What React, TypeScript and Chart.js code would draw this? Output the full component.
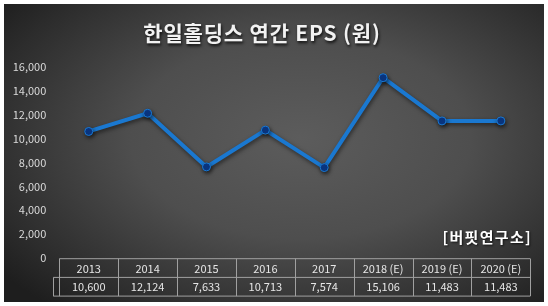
import React, { useEffect, useRef } from "react";
import { Chart, registerables } from "chart.js";

Chart.register(...registerables);

const categories = ["2013", "2014", "2015", "2016", "2017", "2018 (E)", "2019 (E)", "2020 (E)"];
const epsValues = [10600, 12124, 7633, 10713, 7574, 15106, 11483, 11483];
const tableLabels = ["10,600", "12,124", "7,633", "10,713", "7,574", "15,106", "11,483", "11,483"];
const titleText = "한일홀딩스 연간 EPS (원)";
const sourceText = "[버핏연구소]";

const FONT = "'Noto Sans CJK KR', 'Noto Sans', sans-serif";

const shadowPlugin = {
  id: "lineShadow",
  beforeDatasetsDraw(chart: any) {
    const ctx = chart.ctx;
    ctx.save();
    ctx.shadowColor = "rgba(0,0,0,0.55)";
    ctx.shadowBlur = 4;
    ctx.shadowOffsetX = 1;
    ctx.shadowOffsetY = 2;
  },
  afterDatasetsDraw(chart: any) {
    chart.ctx.restore();
  },
};

const tablePlugin = {
  id: "dataTable",
  afterDraw(chart: any) {
    const ctx = chart.ctx;
    const xs = chart.scales.x;
    const area = chart.chartArea;
    const n = categories.length;
    const colW = (area.right - area.left) / n;
    const top = area.bottom + 0.7;
    const rowH = 18.7;
    const keyLeft = area.left - 6;
    ctx.save();
    ctx.strokeStyle = "#a0a0a0";
    ctx.lineWidth = 1;
    ctx.beginPath();
    ctx.moveTo(area.left, top);
    ctx.lineTo(area.right, top);
    ctx.moveTo(keyLeft, top + rowH);
    ctx.lineTo(area.right, top + rowH);
    ctx.moveTo(keyLeft, top + 2 * rowH);
    ctx.lineTo(area.right, top + 2 * rowH);
    for (let i = 0; i <= n; i++) {
      const x = Math.round(area.left + i * colW) + 0.5;
      ctx.moveTo(x, top);
      ctx.lineTo(x, top + 2 * rowH);
    }
    ctx.moveTo(Math.round(keyLeft) + 0.5, top + rowH);
    ctx.lineTo(Math.round(keyLeft) + 0.5, top + 2 * rowH);
    ctx.stroke();
    ctx.fillStyle = "#e6e6e6";
    ctx.font = `11px ${FONT}`;
    ctx.textAlign = "center";
    ctx.textBaseline = "middle";
    for (let i = 0; i < n; i++) {
      const cx = xs.getPixelForValue(i);
      ctx.fillText(categories[i], cx, top + rowH / 2 + 0.5);
      ctx.fillText(tableLabels[i], cx, top + rowH * 1.5 + 0.5);
    }
    ctx.restore();
  },
};

export default function App() {
  const canvasRef = useRef<HTMLCanvasElement | null>(null);

  useEffect(() => {
    if (!canvasRef.current) return;
    const chart = new Chart(canvasRef.current, {
      type: "line",
      data: {
        labels: categories,
        datasets: [
          {
            data: epsValues,
            borderColor: "#1a78d0",
            borderWidth: 4,
            pointBackgroundColor: "#0a3a8c",
            pointBorderColor: "#1a78d0",
            pointBorderWidth: 1,
            pointRadius: 4,
            tension: 0,
          },
        ],
      },
      options: {
        responsive: false,
        animation: false,
        devicePixelRatio: 1,
        layout: { padding: { left: 0, right: 13.7, top: 63, bottom: 44 } },
        plugins: {
          legend: { display: false },
          tooltip: { enabled: false },
          title: { display: false },
        },
        scales: {
          x: {
            type: "category",
            offset: true,
            display: false,
            grid: { display: false },
          },
          y: {
            min: 0,
            max: 16000,
            grid: { display: false, drawTicks: false },
            border: { display: false },
            ticks: {
              stepSize: 2000,
              color: "#d9d9d9",
              padding: 13,
              font: { size: 11, family: FONT },
              callback: (v: any) => Number(v).toLocaleString("en-US"),
            },
            afterFit: (scale: any) => {
              scale.width = 55.3;
            },
          },
        },
      },
      plugins: [shadowPlugin, tablePlugin],
    });
    return () => chart.destroy();
  }, []);

  return (
    <div style={{ position: "fixed", left: 0, top: 0, width: 548, height: 306, background: "#ffffff" }}>
      <div
        style={{
          position: "absolute",
          left: 4,
          top: 4,
          width: 540,
          height: 298,
          background: "radial-gradient(ellipse 70% 75% at 55% 45%, #5c5c5c 0%, #4e4e4e 45%, #2c2c2c 85%, #1e1e1e 100%)",
          overflow: "hidden",
        }}
      >
        <canvas ref={canvasRef} width={540} height={298} style={{ position: "absolute", left: 0, top: 0, width: 540, height: 298 }} />
        <div
          style={{
            position: "absolute",
            left: -12,
            top: 14,
            width: 540,
            textAlign: "center",
            color: "#f2f2f2",
            fontFamily: FONT,
            fontWeight: 700,
            fontSize: 21,
            letterSpacing: 0.8,
            lineHeight: "28px",
            textShadow: "1px 2px 3px rgba(0,0,0,0.8)",
            whiteSpace: "nowrap",
          }}
        >
          {titleText}
        </div>
        <div
          style={{
            position: "absolute",
            left: 420,
            top: 223,
            width: 108,
            textAlign: "right",
            color: "#ffffff",
            fontFamily: FONT,
            fontWeight: 700,
            fontSize: 15,
            letterSpacing: 1.3,
            lineHeight: "20px",
            textShadow: "1px 1px 2px rgba(0,0,0,0.7)",
            whiteSpace: "nowrap",
          }}
        >
          {sourceText}
        </div>
      </div>
    </div>
  );
}
